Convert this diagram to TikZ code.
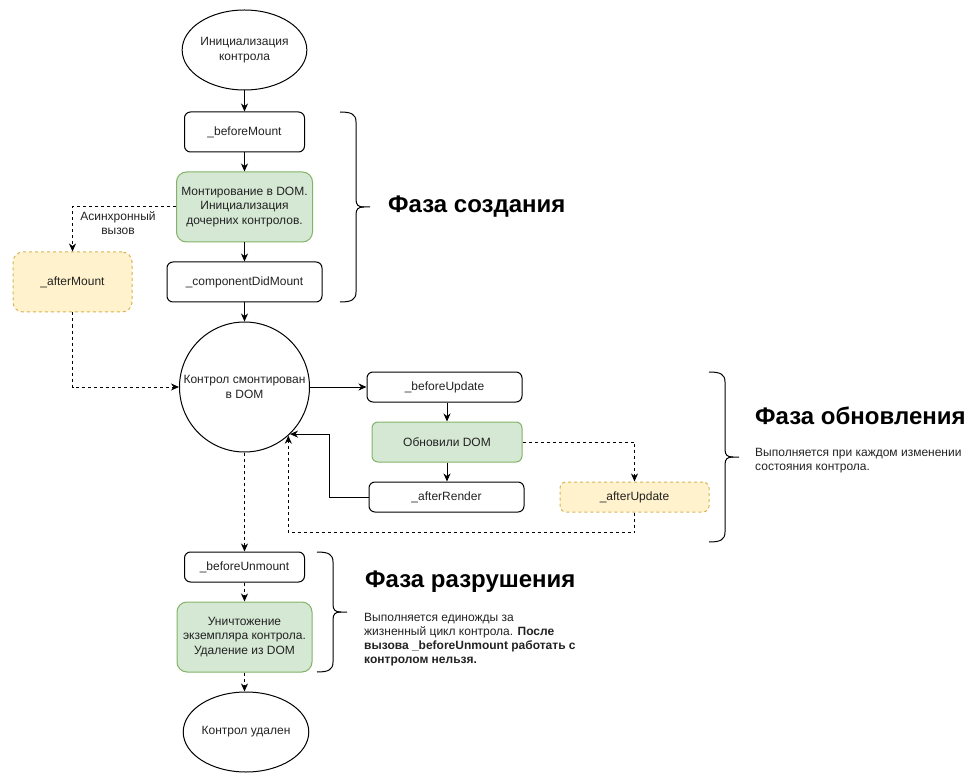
\documentclass[tikz,border=0pt]{standalone}
\usepackage{fontspec}
\setmainfont{Liberation Sans}
\usetikzlibrary{arrows.meta,shapes.geometric}
\definecolor{gfill}{HTML}{D5E8D4}
\definecolor{gdraw}{HTML}{82B366}
\definecolor{yfill}{HTML}{FFF2CC}
\definecolor{ydraw}{HTML}{D6B656}
\definecolor{txt}{HTML}{222222}
\newcommand{\phasebrace}[3]{%
  \draw[line width=1pt] (#1,#2) .. controls (#1+11,#2) and (#1+16,#2+2) .. (#1+16,#2+10)
     -- ({#1+16},{(#2+#3)/2-8}) .. controls ({#1+16},{(#2+#3)/2-2}) and ({#1+18},{(#2+#3)/2}) .. ({#1+24},{(#2+#3)/2})
     -- ({#1+30},{(#2+#3)/2});
  \draw[line width=1pt] (#1,#3) .. controls (#1+11,#3) and (#1+16,#3-2) .. (#1+16,#3-10)
     -- ({#1+16},{(#2+#3)/2+8}) .. controls ({#1+16},{(#2+#3)/2+2}) and ({#1+18},{(#2+#3)/2}) .. ({#1+24},{(#2+#3)/2});
}
\begin{document}
\begin{tikzpicture}[x=1pt,y=-1pt,
  base/.style={font=\fontsize{12}{14.4}\selectfont, text=txt, align=center, inner sep=0pt, line width=1pt},
  box/.style={base, draw, rounded corners=6pt},
  greenbox/.style={box, fill=gfill, draw=gdraw, rounded corners=10pt},
  yellowbox/.style={box, fill=yfill, draw=ydraw, dash pattern=on 3pt off 3pt},
  arr/.style={line width=1pt, -{Stealth[length=8pt,width=7pt,inset=2.5pt]}},
  dsh/.style={dash pattern=on 3pt off 3pt},
  title/.style={anchor=west, inner sep=0pt, font=\bfseries\fontsize{24}{28}\selectfont, text=black},
  desc/.style={anchor=west, inner sep=0pt, align=left, font=\fontsize{12}{14}\selectfont, text=txt}
]
\useasboundingbox (0,0) rectangle (979,783);

% creation phase
\node[base, draw, ellipse, minimum width=120pt, minimum height=80pt] (init) at (244.5,50) {Инициализация\\контрола};
\node[box, minimum width=120pt, minimum height=40pt] (bm) at (244.5,132) {\_beforeMount};
\node[greenbox, minimum width=136pt, minimum height=70pt] (mount) at (244.5,207) {Монтирование в DOM.\\Инициализация\\дочерних контролов.};
\node[box, minimum width=155pt, minimum height=40pt] (cdm) at (244.5,282) {\_componentDidMount};
\node[yellowbox, rounded corners=10pt, minimum width=119pt, minimum height=60pt] (am) at (72.5,282) {\_afterMount};
\node[base] (async) at (118,223) {Асинхронный\\вызов};

% mounted
\node[base, draw, circle, minimum size=130pt] (mounted) at (244.5,387) {Контрол смонтирован\\в DOM};

% update phase
\node[box, minimum width=155pt, minimum height=30pt] (bu) at (444.5,387) {\_beforeUpdate};
\node[greenbox, rounded corners=6pt, minimum width=150pt, minimum height=40pt] (upd) at (447,442) {Обновили DOM};
\node[box, minimum width=155pt, minimum height=30pt] (ar) at (446.5,497) {\_afterRender};
\node[yellowbox, minimum width=149pt, minimum height=30pt] (au) at (634.5,497) {\_afterUpdate};

% destroy phase
\node[box, minimum width=120pt, minimum height=30pt] (bun) at (244.5,567) {\_beforeUnmount};
\node[greenbox, minimum width=135pt, minimum height=70pt] (destroy) at (244.5,637) {Уничтожение\\экземпляра контрола.\\Удаление из DOM};
\node[base, draw, ellipse, minimum width=120pt, minimum height=80pt] (removed) at (246,732) {Контрол удален};

% connectors
\draw[arr] (init) -- (bm);
\draw[arr] (bm) -- (mount);
\draw[arr] (mount) -- (cdm);
\draw[arr] (cdm) -- (mounted);
\draw[arr, dsh] (mount.west) -| (am.north);
\draw[arr, dsh] (am.south) |- (mounted.west);
\draw[arr] (mounted.east) -- (bu.west);
\draw[arr] (upd.north |- bu.south) -- (upd.north);
\draw[arr] (upd.south) -- (upd.south |- ar.north);
\draw[arr] (ar.west) -- ++(-39,0) |- (mounted.-46);
\draw[arr, dsh] (upd.east) -| (au.north);
\draw[arr, dsh] (au.south) -- ++(0,20) -| (mounted.-48);
\draw[arr, dsh] (mounted.south) -- (bun.north);
\draw[arr, dsh] (bun) -- (destroy);
\draw[arr, dsh] (destroy.south) -- (destroy.south |- removed.north);

% braces and phase labels
\phasebrace{340}{112}{302}
\phasebrace{709}{372}{542}
\phasebrace{317}{552}{672}
\node[title] (t1) at (388,207) {Фаза создания};
\node[title] (t2) at (755,416) {Фаза обновления};
\node[desc] (d2) at (755,461) {Выполняется при каждом изменении\\состояния контрола.};
\node[title] (t3) at (365,582) {Фаза разрушения};
\node[desc] (d3) at (364,640) {Выполняется единожды за\\жизненный цикл контрола. \textbf{После}\\\textbf{вызова \_beforeUnmount работать с}\\\textbf{контролом нельзя.}};
\end{tikzpicture}
\end{document}
